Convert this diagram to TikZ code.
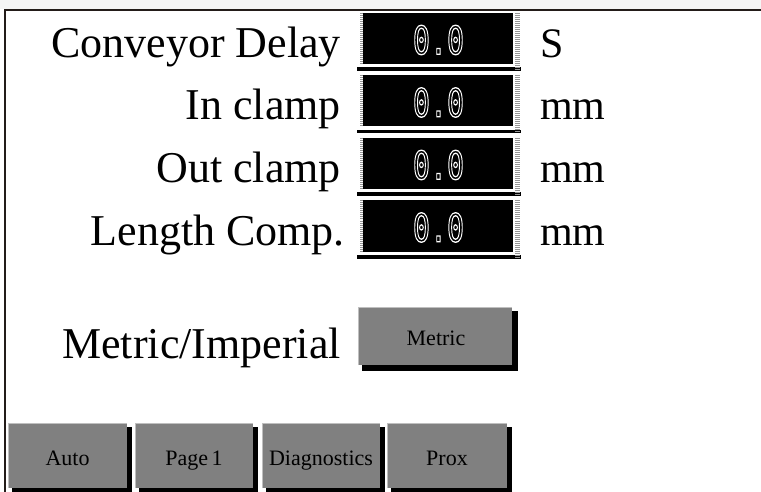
\documentclass[tikz,border=0pt]{standalone}
\usepackage{fontspec}
\setmainfont{Liberation Serif}
\newfontfamily\lcdfont{DejaVu Sans Mono}
\definecolor{btngray}{RGB}{128,128,128}
\definecolor{frame}{RGB}{35,28,25}
\definecolor{bevel}{RGB}{150,150,150}
\newcommand{\outlinetext}[1]{\special{pdf:literal direct 1 Tr 0.9 w}#1\special{pdf:literal direct 0 Tr}}
\tikzset{
  lbl/.style={font=\fontsize{44}{44}\selectfont, inner sep=0pt, anchor=base east},
  unit/.style={font=\fontsize{42}{42}\selectfont, inner sep=0pt, anchor=base west},
  valtext/.style={font=\lcdfont\fontsize{27}{27}\selectfont, text=white, inner sep=0pt},
  btntext/.style={font=\fontsize{22}{22}\selectfont, inner sep=0pt, anchor=base},
}
\begin{document}
\begin{tikzpicture}[x=1pt,y=-1pt]
\useasboundingbox (0,0) rectangle (761,492);
\fill[white] (0,0) rectangle (761,492);
\fill[black!4] (0,0) rectangle (761,9);
\draw[line width=2pt, frame] (761,10) -- (5,10) -- (5,492);

% labels
\node[lbl] (l1) at (341,57.5) {Conveyor Delay};
\node[lbl] (l2) at (341,120) {In clamp};
\node[lbl] (l3) at (341,182.5) {Out clamp};
\node[lbl] (l4) at (345,245) {Length Comp.};

% value boxes
\foreach \t/\n in {13/1,75.5/2,138/3,200.5/4}{
  \fill[black] (357,\t+54.5) rectangle (521,\t+58);
  \fill[black] (363,\t) rectangle (513,\t+51);
  \fill[white] (363,\t+51) rectangle (515,\t+54.5);
  \fill[white] (513,\t) rectangle (515,\t+54.5);
  \draw[bevel, line width=5pt, dash pattern=on 1pt off 1pt] (517.5,\t) -- (517.5,\t+58);
  \draw[bevel, line width=2.5pt, dash pattern=on 1pt off 1pt] (361.5,\t) -- (361.5,\t+51);
  \node[valtext] (v\n) at (438.5,\t+27) {\scalebox{1.05}[1.45]{\outlinetext{0.0}}};
}

% units
\node[unit] (u1) at (540,57.5) {S};
\node[unit] (u2) at (540,120) {mm};
\node[unit] (u3) at (540,182.5) {mm};
\node[unit] (u4) at (540,245) {mm};

% metric / imperial
\node[lbl] (l5) at (341,358) {Metric/Imperial};
\fill[black] (362,311) rectangle (518,371);
\fill[btngray] (358,307) rectangle (512,365);
\draw[black!25, line width=1pt] (358,365) -- (358,307.5) -- (512,307.5);
\node[btntext] (mb) at (436,345) {Metric};

% bottom buttons
\foreach \xa/\xb/\lab/\nm in {8/127/Auto/b1,135/253/Page\,1/b2,262/380/Diagnostics/b3,387/507/Prox/b4}{
  \fill[black] (\xa+4,427) rectangle (\xb+5,492);
  \fill[btngray] (\xa,423) rectangle (\xb,488);
  \draw[black!25, line width=1pt] (\xa,488) -- (\xa,423.5) -- (\xb,423.5);
  \node[btntext] (\nm) at ({(\xa+\xb)/2},465) {\lab};
}
\end{tikzpicture}
\end{document}
